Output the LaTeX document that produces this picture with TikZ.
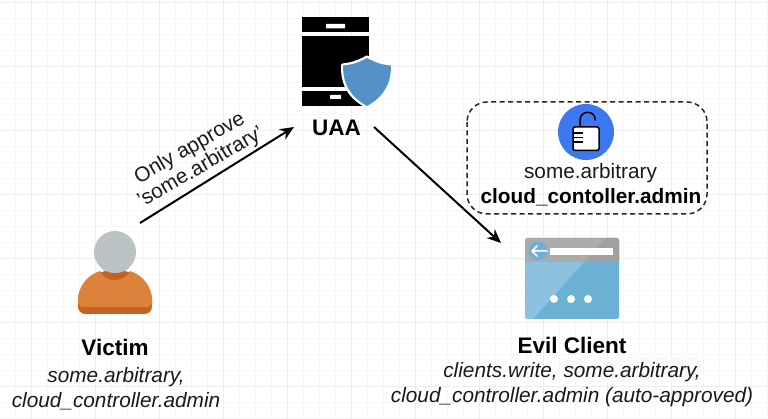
\documentclass[tikz,border=0pt]{standalone}
\usepackage{fontspec}
\setmainfont{Liberation Sans}
\usetikzlibrary{arrows.meta}
\definecolor{gridmaj}{HTML}{EDEDED}
\definecolor{gridmin}{HTML}{F7F7F7}
\definecolor{shieldblue}{HTML}{5590C8}
\definecolor{lockblue}{HTML}{3C78F0}
\definecolor{wingray}{HTML}{ABABAB}
\definecolor{wingrayd}{HTML}{A0A0A0}
\definecolor{winblue}{HTML}{6BB1D6}
\definecolor{winbluel}{HTML}{8CC2DF}
\definecolor{headgray}{HTML}{BAC2C6}
\definecolor{neckgray}{HTML}{98A8A8}
\definecolor{shirt}{HTML}{DC823A}
\definecolor{shirtd}{HTML}{C8611F}
\definecolor{txt}{HTML}{1A1A1A}
\tikzset{
  x=1pt,y=-1pt,
  body text/.style={align=center,inner sep=0pt,text=txt,font=\fontsize{20.8}{25}\selectfont},
  italic text/.style={align=center,inner sep=0pt,text=txt,font=\fontsize{20.8}{25}\selectfont\itshape},
  title text/.style={inner sep=0pt,text=black,font=\fontsize{22.5}{25}\selectfont\bfseries},
  flow/.style={line width=2pt,-{Stealth[length=14pt,width=12pt]}},
}
\begin{document}
\begin{tikzpicture}
\useasboundingbox (0,0) rectangle (768,419);
\fill[white] (0,0) rectangle (768,419);
% grid
\foreach \i in {-1,...,48} \draw[gridmin,line width=0.8pt] ({15+16*\i},0) -- ({15+16*\i},419);
\foreach \j in {0,...,26} \draw[gridmin,line width=0.8pt] (0,{2+16*\j}) -- (768,{2+16*\j});
\foreach \i in {0,...,12} \draw[gridmaj,line width=0.8pt] ({31+64*\i},0) -- ({31+64*\i},419);
\foreach \j in {0,...,6} \draw[gridmaj,line width=0.8pt] (0,{2+64*\j}) -- (768,{2+64*\j});
% device icon
\fill[black] (302,17) rectangle (369,32);
\fill[black] (302,36) rectangle (369,87);
\fill[black] (302,91) rectangle (369,106);
\fill[white,rounded corners=0.5pt] (326,24) rectangle (345,28.5);
\fill[white,rounded corners=0.5pt] (330,95) rectangle (341,99);
\draw[fill=shieldblue,draw=white,line width=3pt,line join=round]
  (367,57) .. controls (358,62) and (351,64) .. (342.5,65)
  .. controls (342,85) and (350,98) .. (367,106.5)
  .. controls (384,98) and (392,85) .. (391.5,65)
  .. controls (383,64) and (376,62) .. (367,57) -- cycle;
\fill[shieldblue]
  (367,58) .. controls (358,63) and (351,65) .. (343,65.5)
  .. controls (343,85) and (351,97) .. (367,106)
  .. controls (383,97) and (391,85) .. (391,65.5)
  .. controls (383,65) and (376,63) .. (367,58) -- cycle;
\node[title text] (uaa) at (336.5,127.5) {UAA};
% dashed group
\draw[line width=1.5pt,dash pattern=on 5pt off 3.5pt,black!85,rounded corners=20pt] (467,102) rectangle (707,214);
\fill[lockblue] (586,132) circle (28);
\draw[black,line width=1.5pt,fill=white,rounded corners=2pt] (573,127) rectangle (599,150.5);
\draw[black,line width=1.5pt,line cap=round] (580,126) -- (580,120) .. controls (580,110) and (595,110) .. (595,119) -- (595,120);
\draw[black,line width=1.2pt] (573,133) -- (583,133) (573,137.5) -- (583,137.5) (573,142) -- (583,142);
\node[body text] (scope1) at (590.5,173) {some.arbitrary};
\node[inner sep=0pt,text=black,font=\fontsize{20.8}{25}\selectfont\bfseries] (scope2) at (591,197) {cloud\_contoller.admin};
% browser icon
\fill[winblue,rounded corners=2.5pt] (525,238) rectangle (619,319);
\fill[wingray,rounded corners=2.5pt] (525,262) -- (525,238) -- (619,238) -- (619,262) -- cycle;
\fill[wingray] (525,255) rectangle (619,262);
\fill[wingrayd] (584,262) -- (606,238) -- (616.5,238) .. controls (618,238) and (619,239) .. (619,240.5) -- (619,262) -- cycle;
\fill[winbluel] (525,262) -- (584,262) -- (533,319) -- (527.5,319) .. controls (526,319) and (525,318) .. (525,316.5) -- cycle;
\fill[winblue] (538,251) circle (9.5);
\fill[white] (549.5,248) rectangle (613,255);
\draw[white,line width=1.5pt,line cap=round,line join=round] (547,251) -- (532,251) (537,246) -- (532,251) -- (537,256);
\foreach \x in {554,571,588} \fill[white] (\x,299) circle (4);
\node[title text] (evil) at (572,345) {Evil Client};
\fill[black!2] (564,357) rectangle (702,382);
\node[italic text] (evilscopes) at (572,385) {clients.write, some.arbitrary,\\cloud\_controller.admin (auto-approved)};
% person
\fill[shirtd] (78,300) .. controls (78,284) and (94,270) .. (115,270) .. controls (136,270) and (152,284) .. (152,300)
  -- (152,306) .. controls (152,311) and (149,314) .. (144,314) -- (86,314) .. controls (81,314) and (78,311) .. (78,306) -- cycle;
\fill[shirt] (78,302) .. controls (78,285) and (88,275) .. (100,271) .. controls (104,283) and (126,283) .. (130,271) .. controls (142,275) and (152,285) .. (152,302)
  .. controls (152,306) and (149,307) .. (145,307) -- (85,307) .. controls (81,307) and (78,306) .. (78,302) -- cycle;
\fill[neckgray] (100,266) .. controls (104,275) and (126,275) .. (130,266) -- (125,262) -- (105,262) -- cycle;
\fill[headgray] (115,252) circle (21);
\node[title text] (victim) at (115,347.5) {Victim};
\node[italic text] (victimscopes) at (116,389) {some.arbitrary,\\cloud\_controller.admin};
% connectors
\coordinate (a1) at (140,223);
\coordinate (a2) at (294,127);
\coordinate (b1) at (374,127);
\coordinate (b2) at (501,243);
\draw[flow] (a1) -- (a2);
\draw[flow] (b1) -- (b2);
\node[body text,rotate=30] (edgelabel) at (195.5,158) {Only approve\\[-3pt]'some.arbitrary'};
\end{tikzpicture}
\end{document}
